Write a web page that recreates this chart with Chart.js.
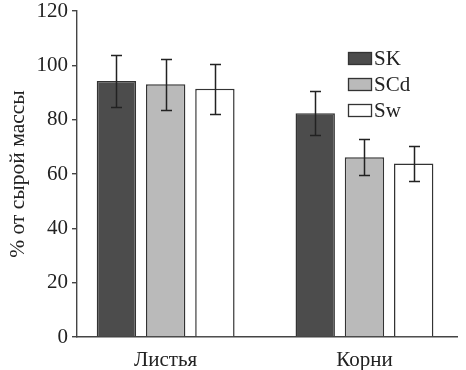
<!DOCTYPE html>
<html><head><meta charset="utf-8">
<script src="https://cdn.jsdelivr.net/npm/chart.js@4"></script>
<style>html,body{margin:0;padding:0;background:#fff}#wrap{width:466px;height:370px}</style>
</head><body><div id="wrap"><canvas id="c"></canvas></div>
<script>
const categories = ['Листья', 'Корни'];
const seriesNames = ['SK', 'SCd', 'Sw'];
const skValues = [94.2, 82.4];
const skErrors = [9.5, 8.2];
const scdValues = [93.0, 66.2];
const scdErrors = [9.3, 6.7];
const swValues = [91.4, 63.9];
const swErrors = [9.2, 6.4];
const yTicks = [0, 20, 40, 60, 80, 100, 120];
const yTitle = '% от сырой массы';

const FONT = "'Liberation Serif', 'Times New Roman', serif";
const ink = '#222';

const errorBars = {
  id: 'errorBars',
  afterDatasetsDraw(chart) {
    const ctx = chart.ctx, y = chart.scales.y;
    ctx.save();
    ctx.strokeStyle = ink; ctx.lineWidth = 1.5;
    chart.data.datasets.forEach((ds, di) => {
      const meta = chart.getDatasetMeta(di);
      meta.data.forEach((bar, i) => {
        const v = ds.data[i], e = ds.errors[i];
        const t = Math.round(y.getPixelForValue(v + e)) + 0.5;
        const b = Math.round(y.getPixelForValue(v - e)) + 0.5;
        const x = Math.round(bar.x) + 0.5, hw = 5.5;
        ctx.beginPath();
        ctx.moveTo(x, t); ctx.lineTo(x, b);
        ctx.moveTo(x - hw, t); ctx.lineTo(x + hw, t);
        ctx.moveTo(x - hw, b); ctx.lineTo(x + hw, b);
        ctx.stroke();
      });
    });
    ctx.restore();
  }
};

const legendBoxes = {
  id: 'legendBoxes',
  afterDraw(chart) {
    const ctx = chart.ctx;
    ctx.save();
    ctx.font = '21px ' + FONT;
    ctx.textBaseline = 'middle';
    chart.data.datasets.forEach((ds, i) => {
      const bx = 348, by = 52 + i * 26;
      ctx.fillStyle = ds.backgroundColor;
      ctx.fillRect(bx, by, 24, 13);
      ctx.strokeStyle = '#333'; ctx.lineWidth = 1.3;
      ctx.strokeRect(bx + 0.5, by + 0.5, 23, 12);
      ctx.fillStyle = ink;
      ctx.fillText(ds.label, bx + 26, by + 7);
    });
    ctx.restore();
  }
};

new Chart(document.getElementById('c'), {
  type: 'bar',
  data: {
    labels: categories,
    datasets: [
      { label: seriesNames[0], data: skValues, errors: skErrors, backgroundColor: '#4c4c4c' },
      { label: seriesNames[1], data: scdValues, errors: scdErrors, backgroundColor: '#bababa' },
      { label: seriesNames[2], data: swValues, errors: swErrors, backgroundColor: '#ffffff' }
    ].map(d => Object.assign(d, { borderColor: '#333', borderWidth: 1.5, categoryPercentage: 0.743, barPercentage: 0.8 }))
  },
  options: {
    responsive: true, maintainAspectRatio: false, animation: false,
    layout: { padding: { top: 11, right: 9, left: 0, bottom: 0 } },
    plugins: { legend: { display: false }, tooltip: { enabled: false } },
    scales: {
      x: {
        grid: { display: false },
        border: { display: true, color: '#444', width: 1.4 },
        ticks: { color: ink, font: { family: FONT, size: 21 }, padding: 3 },
        afterFit(s) { s.height = 33; s.paddingLeft = 0; s.paddingRight = 0; },
        afterUpdate(s) { s._startValue = -0.446; s._valueRange = 1.9115; }
      },
      y: {
        min: 0, max: 120,
        afterBuildTicks(s) { s.ticks = yTicks.map(v => ({ value: v })); },
        grid: { drawOnChartArea: false, drawTicks: true, tickLength: 5, color: '#444', lineWidth: 1.4 },
        border: { display: true, color: '#444', width: 1.4 },
        ticks: { color: ink, font: { family: FONT, size: 21 }, padding: 4 },
        title: { display: true, text: yTitle, color: ink, font: { family: FONT, size: 21.5 }, padding: { top: 5, bottom: 0 } },
        afterFit(s) { s.width = 77; s.paddingTop = 0; s.paddingBottom = 0; }
      }
    }
  },
  plugins: [errorBars, legendBoxes]
});
</script></body></html>
